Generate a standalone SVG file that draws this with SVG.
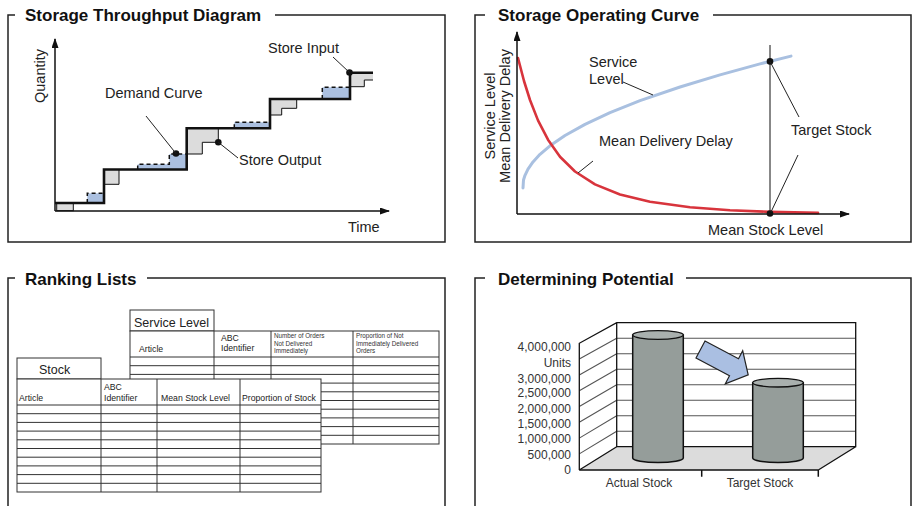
<svg xmlns="http://www.w3.org/2000/svg" width="913" height="506" viewBox="0 0 913 506">
<defs>
<style>
.frame{fill:none;stroke:#222;stroke-width:1.5}
.title{font-family:"Liberation Sans",Arial,sans-serif;font-weight:bold;font-size:17px;fill:#111}
.lbl{font-family:"Liberation Sans",Arial,sans-serif;font-size:14.5px;fill:#222}
.axis{stroke:#111;stroke-width:1.5;fill:none}
.lead{stroke:#222;stroke-width:1;fill:none}
.dot{fill:#111}
.gray{fill:#dcdcdc;stroke:none}
.out{fill:none;stroke:#111;stroke-width:1}
.blue{fill:#abc0e0;stroke:none}
.dash{fill:none;stroke:#111;stroke-width:1.5;stroke-dasharray:4 3}
.tb{fill:none;stroke:#333;stroke-width:1}
.tbw{fill:#fff;stroke:#333;stroke-width:1}
.th{font-family:"Liberation Sans",Arial,sans-serif;font-size:8.7px;fill:#222}
.ts{font-family:"Liberation Sans",Arial,sans-serif;font-size:6.3px;fill:#333}
.tt{font-family:"Liberation Sans",Arial,sans-serif;font-size:12.5px;fill:#222}
.cl{font-family:"Liberation Sans",Arial,sans-serif;font-size:12px;fill:#333}
.grid{stroke:#555;stroke-width:1.1}
.cyl{fill:#959d9a;stroke:#111;stroke-width:1.5}
.cyltop{fill:#a9b0ae;stroke:#111;stroke-width:1.3}
</style>
<marker id="ah" viewBox="0 0 10 7" refX="9" refY="3.5" markerWidth="10" markerHeight="7" markerUnits="userSpaceOnUse" orient="auto">
<path d="M0,0 L10,3.5 L0,7 z" fill="#111"/>
</marker>
</defs>
<rect width="913" height="506" fill="#fff"/>

<!-- Panel 1 -->
<g id="panel-throughput">
<path class="frame" d="M15,15 H8 V242 H445 V15 H275"/>
<text class="title" x="25" y="21">Storage Throughput Diagram</text>
<!-- gray regions -->
<rect x="56.7" y="203" width="16.6" height="7.7" fill="#dcdcdc" stroke="#111" stroke-width="1"/>
<polygon class="gray" points="104,169.5 119,169.5 119,184.3 104,184.3"/>
<path class="out" d="M104,184.3 H119 V169.5"/>
<polygon class="gray" points="186.7,128.3 218.3,128.3 218.3,142.3 202.3,142.3 202.3,154 186.7,154"/>
<path class="out" d="M186.7,154 H202.3 V142.3 H218.3 V128.3"/>
<polygon class="gray" points="270,99 296.7,99 296.7,108.3 281.7,108.3 281.7,115 270,115"/>
<path class="out" d="M270,115 H281.7 V108.3 H296.7 V99"/>
<polygon class="gray" points="350,72.7 373,72.7 373,80 364.3,80 364.3,86.7 350,86.7"/>
<path class="out" d="M350,86.7 H364.3 V80 H373"/>
<!-- blue demand regions -->
<rect class="blue" x="87.3" y="193.3" width="16.7" height="9.7"/>
<path class="dash" d="M87.3,203 V193.3 H104"/>
<polygon class="blue" points="137.7,169.5 137.7,164.3 169.3,164.3 169.3,154 186.7,154 186.7,169.5"/>
<path class="dash" d="M137.7,169.5 V164.3 H169.3 V154 H186.7"/>
<rect class="blue" x="234.3" y="122.3" width="35.7" height="6"/>
<path class="dash" d="M234.3,128.3 V122.3 H270"/>
<rect class="blue" x="322.3" y="87.3" width="27.7" height="11.7"/>
<path class="dash" d="M322.3,99 V87.3 H350"/>
<!-- store input -->
<path fill="none" stroke="#111" stroke-width="2.6" d="M55,203 H104 V169.5 H186.7 V128.3 H270 V99 H350 V72.7 H373"/>
<!-- axes -->
<path class="axis" d="M55,211 V39" marker-end="url(#ah)"/>
<path class="axis" d="M55,211 H389" marker-end="url(#ah)"/>
<text class="lbl" transform="translate(45,76) rotate(-90)" text-anchor="middle">Quantity</text>
<text class="lbl" x="348" y="231.5">Time</text>
<text class="lbl" x="105" y="97.5">Demand Curve</text>
<text class="lbl" x="239" y="165">Store Output</text>
<text class="lbl" x="268" y="53">Store Input</text>
<circle class="dot" cx="176" cy="153.5" r="3.3"/>
<circle class="dot" cx="218.3" cy="142.3" r="3.3"/>
<circle class="dot" cx="349.5" cy="72.5" r="3.3"/>
</g>

<!-- Panel 2 -->
<g id="panel-operating-curve">
<path class="frame" d="M485,15 H475 V242 H911 V15 H713"/>
<text class="title" x="498" y="21">Storage Operating Curve</text>
<line x1="770" y1="45" x2="770" y2="214" stroke="#111" stroke-width="1"/>
<polyline fill="none" stroke="#a9c0e0" stroke-width="3" stroke-linecap="round" stroke-linejoin="round" points="523,188 523.5,180 525,175.3 528,169.1 533,161.9 540,154.3 550,145.8 565,135.5 585,124.4 610,112.7 640,100.7 680,87 720,74.9 760,63.9 791,56.1"/>
<polyline fill="none" stroke="#d8343c" stroke-width="2.6" stroke-linecap="round" stroke-linejoin="round" points="518,58 524,81 530,100 538,120.4 548,139.7 560,156.7 575,171.5 595,184.4 620,194.5 650,201.8 690,207.3 730,210.2 770,211.9 818,212.9"/>
<path class="axis" d="M517,214 V32" marker-end="url(#ah)"/>
<path class="axis" d="M517,214 H849" marker-end="url(#ah)"/>
<text class="lbl" transform="translate(495,116) rotate(-90)" text-anchor="middle">Service Level</text>
<text class="lbl" transform="translate(510,116) rotate(-90)" text-anchor="middle">Mean Delivery Delay</text>
<text class="lbl" x="589" y="67">Service</text>
<text class="lbl" x="589" y="84.3">Level</text>
<text class="lbl" x="599" y="145.5">Mean Delivery Delay</text>
<text class="lbl" x="791" y="135">Target Stock</text>
<text class="lbl" x="708" y="235">Mean Stock Level</text>
<circle class="dot" cx="770" cy="61.4" r="3.3"/>
<circle class="dot" cx="770" cy="213.5" r="3.3"/>
</g>

<!-- Panel 3 -->
<g id="panel-ranking-lists">
<path class="frame" d="M15,278 H8 V510 M445,510 V278 H147"/>
<text class="title" x="25" y="284.5">Ranking Lists</text>
</g>
<g id="table-service-level">
<rect class="tbw" x="130" y="310" width="84" height="21"/>
<text class="tt" x="134" y="326.5">Service Level</text>
<rect class="tbw" x="130" y="331" width="309" height="113"/>
<path class="tb" d="M214,331 V444 M271,331 V444 M353,331 V444 M130,357 H439 M130,365.7 H439 M130,374.4 H439 M130,383.1 H439 M130,391.8 H439 M130,400.5 H439 M130,409.2 H439 M130,417.9 H439 M130,426.6 H439 M130,435.3 H439"/>
<text class="th" x="139" y="352">Article</text>
<text class="th" x="221" y="341">ABC</text>
<text class="th" x="221" y="351">Identifier</text>
<text class="ts" x="274" y="338">Number of Orders</text>
<text class="ts" x="274" y="345.5">Not Delivered</text>
<text class="ts" x="274" y="353">Immediately</text>
<text class="ts" x="356" y="338">Proportion of Not</text>
<text class="ts" x="356" y="345.5">Immediately Delivered</text>
<text class="ts" x="356" y="353">Orders</text>
</g>
<g id="table-stock">
<rect class="tbw" x="17" y="358" width="84" height="21"/>
<text class="tt" x="39" y="374">Stock</text>
<rect class="tbw" x="17" y="379" width="304" height="113"/>
<path class="tb" d="M101,379 V492 M157,379 V492 M240,379 V492 M17,405 H321 M17,413.7 H321 M17,422.4 H321 M17,431.1 H321 M17,439.8 H321 M17,448.5 H321 M17,457.2 H321 M17,465.9 H321 M17,474.6 H321 M17,483.3 H321"/>
<text class="th" x="19" y="401">Article</text>
<text class="th" x="104" y="390">ABC</text>
<text class="th" x="104" y="401">Identifier</text>
<text class="th" x="161" y="401">Mean Stock Level</text>
<text class="th" x="242" y="401">Proportion of Stock</text>
</g>

<!-- Panel 4 -->
<g id="panel-potential">
<path class="frame" d="M485,278 H475 V510 M911,510 V278 H686"/>
<text class="title" x="498" y="284.5">Determining Potential</text>
<!-- walls -->
<rect x="616.7" y="322.7" width="239" height="124" fill="#fff"/>
<polygon points="579.3,343.3 616.7,322.7 616.7,446.7 579.3,470" fill="#fff"/>
<polygon points="579.3,470 616.7,446.7 855.7,446.7 818.3,470" fill="#dcdcdc"/>
<path class="grid" d="M616.7,338.2 H855.7 M616.7,353.7 H855.7 M616.7,369.2 H855.7 M616.7,384.7 H855.7 M616.7,400.2 H855.7 M616.7,415.7 H855.7 M616.7,431.2 H855.7"/>
<path class="grid" d="M579.3,359.1 L616.7,338.2 M579.3,374.9 L616.7,353.7 M579.3,390.7 L616.7,369.2 M579.3,406.5 L616.7,384.7 M579.3,422.3 L616.7,400.2 M579.3,438.1 L616.7,415.7 M579.3,453.9 L616.7,431.2"/>
<path fill="none" stroke="#111" stroke-width="1.3" d="M579.3,470 V343.3 L616.7,322.7 H855.7 V446.7 H616.7 V322.7 M616.7,446.7 L579.3,470 M855.7,446.7 L818.3,470"/>
<path fill="none" stroke="#111" stroke-width="1.5" d="M579.3,470 H818.3 M701.7,470 V476.7 M818.3,470 V476.7"/>
<!-- cylinders -->
<path class="cyl" d="M632.7,335 V458 A25.3,4.5 0 0 0 683.3,458 V335 Z"/>
<ellipse class="cyltop" cx="658" cy="335" rx="25.3" ry="4.3"/>
<path class="cyl" d="M752.7,382.7 V458 A25.3,4.5 0 0 0 803.3,458 V382.7 Z"/>
<ellipse class="cyltop" cx="778" cy="382.7" rx="25.3" ry="4.3"/>
<!-- arrow -->
<polygon points="705,341 738.5,358.8 742.7,350.8 748.2,374.8 725.3,383.8 729.5,375.8 696,358" fill="#aabfe2" stroke="#222" stroke-width="1.2" stroke-linejoin="miter"/>
<!-- labels -->
<g text-anchor="end">
<text class="cl" x="571" y="351">4,000,000</text>
<text class="cl" x="571" y="367">Units</text>
<text class="cl" x="571" y="382.6">3,000,000</text>
<text class="cl" x="571" y="397">2,500,000</text>
<text class="cl" x="571" y="412.6">2,000,000</text>
<text class="cl" x="571" y="427.6">1,500,000</text>
<text class="cl" x="571" y="442.6">1,000,000</text>
<text class="cl" x="571" y="458.6">500,000</text>
<text class="cl" x="571" y="474.3">0</text>
</g>
<text class="cl" x="639" y="486.5" text-anchor="middle">Actual Stock</text>
<text class="cl" x="760" y="486.5" text-anchor="middle">Target Stock</text>
</g>

<!-- leader connectors -->
<g id="connectors">
<line class="lead" x1="146" y1="116" x2="176" y2="153.5"/>
<line class="lead" x1="218.3" y1="142.3" x2="238" y2="158"/>
<line class="lead" x1="333" y1="57" x2="349.5" y2="72.5"/>
<line class="lead" x1="623" y1="82" x2="653" y2="95"/>
<line class="lead" x1="593" y1="161" x2="578" y2="173"/>
<line class="lead" x1="770" y1="61.4" x2="799" y2="117"/>
<line class="lead" x1="798" y1="155" x2="771" y2="212"/>
</g>
</svg>
